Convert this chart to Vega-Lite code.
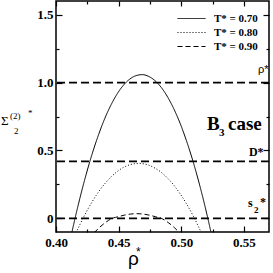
{
  "$schema": "https://vega.github.io/schema/vega-lite/v6.json",
  "width": 213,
  "height": 231,
  "autosize": "none",
  "padding": {"left": 56, "top": 1, "right": 4, "bottom": 41},
  "background": "white",
  "config": {
    "view": {"stroke": "black", "strokeWidth": 1.5},
    "axis": {"domain": false, "grid": false, "title": null, "tickColor": "black", "tickWidth": 1.2, "labelColor": "black", "labelFont": "Liberation Serif", "labelFontWeight": "bold", "labelFontSize": 13, "labelFlush": false},
    "text": {"color": "black"}
  },
  "resolve": {"axis": {"x": "independent", "y": "independent"}},
  "layer": [
    {
      "data": {"values": [
        {"T": "T* = 0.70", "x": 0.411, "y": -0.174},
        {"T": "T* = 0.70", "x": 0.414, "y": -0.048},
        {"T": "T* = 0.70", "x": 0.419, "y": 0.146},
        {"T": "T* = 0.70", "x": 0.424, "y": 0.322},
        {"T": "T* = 0.70", "x": 0.429, "y": 0.479},
        {"T": "T* = 0.70", "x": 0.434, "y": 0.617},
        {"T": "T* = 0.70", "x": 0.439, "y": 0.737},
        {"T": "T* = 0.70", "x": 0.444, "y": 0.837},
        {"T": "T* = 0.70", "x": 0.449, "y": 0.919},
        {"T": "T* = 0.70", "x": 0.454, "y": 0.982},
        {"T": "T* = 0.70", "x": 0.459, "y": 1.026},
        {"T": "T* = 0.70", "x": 0.464, "y": 1.051},
        {"T": "T* = 0.70", "x": 0.469, "y": 1.058},
        {"T": "T* = 0.70", "x": 0.474, "y": 1.045},
        {"T": "T* = 0.70", "x": 0.479, "y": 1.014},
        {"T": "T* = 0.70", "x": 0.484, "y": 0.964},
        {"T": "T* = 0.70", "x": 0.489, "y": 0.895},
        {"T": "T* = 0.70", "x": 0.494, "y": 0.807},
        {"T": "T* = 0.70", "x": 0.499, "y": 0.701},
        {"T": "T* = 0.70", "x": 0.504, "y": 0.575},
        {"T": "T* = 0.70", "x": 0.509, "y": 0.431},
        {"T": "T* = 0.70", "x": 0.514, "y": 0.268},
        {"T": "T* = 0.70", "x": 0.519, "y": 0.086},
        {"T": "T* = 0.70", "x": 0.524, "y": -0.115},
        {"T": "T* = 0.70", "x": 0.527, "y": -0.244},
        {"T": "T* = 0.80", "x": 0.415, "y": -0.127},
        {"T": "T* = 0.80", "x": 0.419, "y": -0.047},
        {"T": "T* = 0.80", "x": 0.424, "y": 0.044},
        {"T": "T* = 0.80", "x": 0.429, "y": 0.125},
        {"T": "T* = 0.80", "x": 0.434, "y": 0.196},
        {"T": "T* = 0.80", "x": 0.439, "y": 0.256},
        {"T": "T* = 0.80", "x": 0.444, "y": 0.306},
        {"T": "T* = 0.80", "x": 0.449, "y": 0.346},
        {"T": "T* = 0.80", "x": 0.454, "y": 0.376},
        {"T": "T* = 0.80", "x": 0.459, "y": 0.395},
        {"T": "T* = 0.80", "x": 0.466, "y": 0.405},
        {"T": "T* = 0.80", "x": 0.474, "y": 0.392},
        {"T": "T* = 0.80", "x": 0.479, "y": 0.370},
        {"T": "T* = 0.80", "x": 0.484, "y": 0.339},
        {"T": "T* = 0.80", "x": 0.489, "y": 0.297},
        {"T": "T* = 0.80", "x": 0.494, "y": 0.245},
        {"T": "T* = 0.80", "x": 0.499, "y": 0.182},
        {"T": "T* = 0.80", "x": 0.504, "y": 0.110},
        {"T": "T* = 0.80", "x": 0.509, "y": 0.027},
        {"T": "T* = 0.80", "x": 0.514, "y": -0.066},
        {"T": "T* = 0.80", "x": 0.517, "y": -0.127},
        {"T": "T* = 0.90", "x": 0.4305, "y": -0.105},
        {"T": "T* = 0.90", "x": 0.4345, "y": -0.068},
        {"T": "T* = 0.90", "x": 0.4395, "y": -0.030},
        {"T": "T* = 0.90", "x": 0.4445, "y": -0.001},
        {"T": "T* = 0.90", "x": 0.4495, "y": 0.012},
        {"T": "T* = 0.90", "x": 0.4545, "y": 0.024},
        {"T": "T* = 0.90", "x": 0.4595, "y": 0.032},
        {"T": "T* = 0.90", "x": 0.4645, "y": 0.035},
        {"T": "T* = 0.90", "x": 0.4695, "y": 0.032},
        {"T": "T* = 0.90", "x": 0.4745, "y": 0.024},
        {"T": "T* = 0.90", "x": 0.4795, "y": 0.012},
        {"T": "T* = 0.90", "x": 0.4845, "y": -0.001},
        {"T": "T* = 0.90", "x": 0.4895, "y": -0.030},
        {"T": "T* = 0.90", "x": 0.4945, "y": -0.068},
        {"T": "T* = 0.90", "x": 0.4985, "y": -0.105}
      ]},
      "mark": {"type": "line", "clip": true, "color": "black", "strokeWidth": 1, "interpolate": "monotone"},
      "encoding": {
        "x": {"field": "x", "type": "quantitative", "scale": {"domain": [0.4, 0.57], "nice": false, "zero": false},
          "axis": {"orient": "bottom", "values": [0.4, 0.45, 0.5, 0.55], "format": ".2f", "tickSize": -6, "labelPadding": 10}},
        "y": {"field": "y", "type": "quantitative", "scale": {"domain": [-0.1, 1.6], "nice": false, "zero": false},
          "axis": {"orient": "left", "values": [0, 0.5, 1, 1.5], "labelExpr": "datum.value == 0 ? '0' : format(datum.value, '.1f')", "tickSize": -6, "labelPadding": 9}},
        "strokeDash": {"field": "T", "type": "nominal",
          "scale": {"domain": ["T* = 0.70", "T* = 0.80", "T* = 0.90"], "range": [[1, 0], [1, 2], [5, 3]]},
          "legend": {"orient": "none", "legendX": 128, "legendY": 10, "title": null, "labelFont": "Liberation Serif", "labelFontWeight": "bold", "labelFontSize": 11, "labelColor": "black", "symbolType": "M-2,0H2", "symbolSize": 196, "symbolStrokeColor": "black", "symbolStrokeWidth": 1, "symbolFillColor": "transparent", "labelOffset": 15, "rowPadding": 1, "padding": 0}}
      }
    },
    {
      "data": {"values": [{"y": 1.0}, {"y": 0.42}, {"y": 0}]},
      "mark": {"type": "rule", "color": "black", "strokeWidth": 1.8, "strokeDash": [8, 4]},
      "encoding": {
        "y": {"field": "y", "type": "quantitative", "scale": {"domain": [-0.1, 1.6], "nice": false, "zero": false}, "axis": null}
      }
    },
    {
      "data": {"values": [{"t": "B", "x": 0.5205, "y": 0.654}, {"t": "case", "x": 0.5373, "y": 0.654}]},
      "mark": {"type": "text", "font": "Liberation Serif", "fontWeight": "bold", "fontSize": 19, "align": "left", "baseline": "alphabetic"},
      "encoding": {
        "x": {"field": "x", "type": "quantitative", "scale": {"domain": [0.4, 0.57], "nice": false, "zero": false},
          "axis": {"orient": "bottom", "values": [0.425, 0.475, 0.525], "tickSize": -3, "labels": false}},
        "y": {"field": "y", "type": "quantitative", "scale": {"domain": [-0.1, 1.6], "nice": false, "zero": false},
          "axis": {"orient": "left", "values": [0.25, 0.75, 1.25], "tickSize": -3, "labels": false}},
        "text": {"field": "t"}
      }
    },
    {
      "data": {"values": [{"t": "D*", "x": 0.554, "y": 0.456}, {"t": "s", "x": 0.5532, "y": 0.081}, {"t": "*", "x": 0.5628, "y": 0.088}]},
      "mark": {"type": "text", "font": "Liberation Serif", "fontWeight": "bold", "fontSize": 12, "align": "left", "baseline": "alphabetic"},
      "encoding": {
        "x": {"field": "x", "type": "quantitative", "scale": {"domain": [0.4, 0.57], "nice": false, "zero": false},
          "axis": {"orient": "top", "values": [0.4, 0.45, 0.5, 0.55], "tickSize": -5, "labels": false}},
        "y": {"field": "y", "type": "quantitative", "scale": {"domain": [-0.1, 1.6], "nice": false, "zero": false},
          "axis": {"orient": "right", "values": [0, 0.5, 1, 1.5], "tickSize": -6, "labels": false}},
        "text": {"field": "t"}
      }
    },
    {
      "data": {"values": [{"t": "2", "x": 0.558, "y": 0.037}]},
      "mark": {"type": "text", "font": "Liberation Serif", "fontWeight": "bold", "fontSize": 9, "align": "left", "baseline": "alphabetic"},
      "encoding": {
        "x": {"field": "x", "type": "quantitative", "scale": {"domain": [0.4, 0.57], "nice": false, "zero": false},
          "axis": {"orient": "top", "values": [0.425, 0.475, 0.525], "tickSize": -3, "labels": false}},
        "y": {"field": "y", "type": "quantitative", "scale": {"domain": [-0.1, 1.6], "nice": false, "zero": false},
          "axis": {"orient": "right", "values": [0.25, 0.75, 1.25], "tickSize": -3, "labels": false}},
        "text": {"field": "t"}
      }
    },
    {
      "data": {"values": [{"t": "3", "x": 0.5301, "y": 0.61}]},
      "mark": {"type": "text", "font": "Liberation Serif", "fontWeight": "bold", "fontSize": 11, "align": "left", "baseline": "alphabetic"},
      "encoding": {
        "x": {"field": "x", "type": "quantitative", "scale": {"domain": [0.4, 0.57], "nice": false, "zero": false}, "axis": null},
        "y": {"field": "y", "type": "quantitative", "scale": {"domain": [-0.1, 1.6], "nice": false, "zero": false}, "axis": null},
        "text": {"field": "t"}
      }
    },
    {
      "data": {"values": [{"t": "ρ*", "x": 0.5612, "y": 1.07}]},
      "mark": {"type": "text", "font": "Liberation Sans", "fontSize": 11, "align": "left", "baseline": "alphabetic"},
      "encoding": {
        "x": {"field": "x", "type": "quantitative", "scale": {"domain": [0.4, 0.57], "nice": false, "zero": false}, "axis": null},
        "y": {"field": "y", "type": "quantitative", "scale": {"domain": [-0.1, 1.6], "nice": false, "zero": false}, "axis": null},
        "text": {"field": "t"}
      }
    },
    {
      "data": {"values": [{"t": "Σ", "x": 0.3561, "y": 0.691}]},
      "mark": {"type": "text", "font": "Liberation Serif", "fontSize": 13, "align": "left", "baseline": "alphabetic"},
      "encoding": {
        "x": {"field": "x", "type": "quantitative", "scale": {"domain": [0.4, 0.57], "nice": false, "zero": false}, "axis": null},
        "y": {"field": "y", "type": "quantitative", "scale": {"domain": [-0.1, 1.6], "nice": false, "zero": false}, "axis": null},
        "text": {"field": "t"}
      }
    },
    {
      "data": {"values": [{"t": "(2)", "x": 0.3633, "y": 0.735}, {"t": "2", "x": 0.3665, "y": 0.618}, {"t": "*", "x": 0.3777, "y": 0.757}]},
      "mark": {"type": "text", "font": "Liberation Serif", "fontSize": 9, "align": "left", "baseline": "alphabetic"},
      "encoding": {
        "x": {"field": "x", "type": "quantitative", "scale": {"domain": [0.4, 0.57], "nice": false, "zero": false}, "axis": null},
        "y": {"field": "y", "type": "quantitative", "scale": {"domain": [-0.1, 1.6], "nice": false, "zero": false}, "axis": null},
        "text": {"field": "t"}
      }
    },
    {
      "data": {"values": [{"t": "ρ", "x": 0.4575, "y": -0.3456}]},
      "mark": {"type": "text", "font": "Liberation Sans", "fontSize": 19, "align": "left", "baseline": "alphabetic"},
      "encoding": {
        "x": {"field": "x", "type": "quantitative", "scale": {"domain": [0.4, 0.57], "nice": false, "zero": false}, "axis": null},
        "y": {"field": "y", "type": "quantitative", "scale": {"domain": [-0.1, 1.6], "nice": false, "zero": false}, "axis": null},
        "text": {"field": "t"}
      }
    },
    {
      "data": {"values": [{"t": "*", "x": 0.4638, "y": -0.279}]},
      "mark": {"type": "text", "font": "Liberation Sans", "fontSize": 12, "align": "left", "baseline": "alphabetic"},
      "encoding": {
        "x": {"field": "x", "type": "quantitative", "scale": {"domain": [0.4, 0.57], "nice": false, "zero": false}, "axis": null},
        "y": {"field": "y", "type": "quantitative", "scale": {"domain": [-0.1, 1.6], "nice": false, "zero": false}, "axis": null},
        "text": {"field": "t"}
      }
    }
  ]
}
